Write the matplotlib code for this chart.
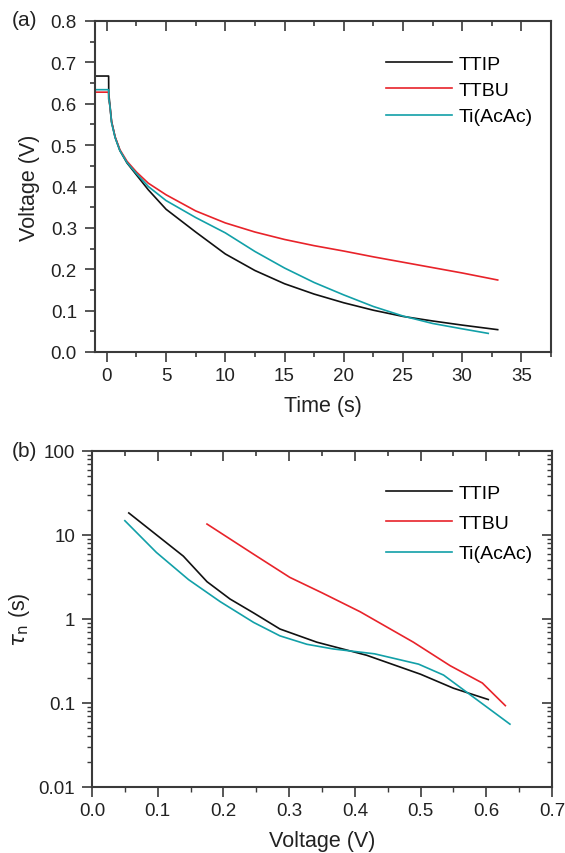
import matplotlib
matplotlib.use("Agg")
import matplotlib.pyplot as plt
from matplotlib.ticker import MultipleLocator, LogLocator, FixedLocator, FixedFormatter, NullFormatter

plt.rcParams['font.family'] = ['Liberation Sans', 'DejaVu Sans']

# ---------------- data: panel (a) voltage decay ----------------
series_names = ["TTIP", "TTBU", "Ti(AcAc)"]
series_colors = ["#111111", "#e8232a", "#12a0a8"]

t_ttip = [-1.0, 0.15, 0.16, 0.25, 0.4, 0.7, 1.1, 1.7, 2.5, 3.5, 5.0, 7.5, 10.0, 12.5, 15.0,
          17.5, 20.0, 22.5, 25.0, 27.5, 30.0, 33.0]
v_ttip = [0.667, 0.667, 0.625, 0.600, 0.557, 0.519, 0.487, 0.457, 0.428, 0.392, 0.345, 0.290,
          0.237, 0.197, 0.165, 0.140, 0.119, 0.101, 0.086, 0.075, 0.065, 0.054]

t_ttbu = [-1.0, 0.15, 0.16, 0.25, 0.4, 0.7, 1.1, 1.7, 2.5, 3.5, 5.0, 7.5, 10.0, 12.5, 15.0,
          17.5, 20.0, 22.5, 25.0, 27.5, 30.0, 33.0]
v_ttbu = [0.628, 0.628, 0.610, 0.596, 0.556, 0.520, 0.489, 0.461, 0.435, 0.408, 0.380, 0.341,
          0.312, 0.290, 0.272, 0.257, 0.244, 0.230, 0.217, 0.204, 0.191, 0.174]

t_tiacac = [-1.0, 0.15, 0.16, 0.25, 0.4, 0.7, 1.1, 1.7, 2.5, 3.5, 5.0, 7.5, 10.0, 12.5, 15.0,
            17.5, 20.0, 22.5, 25.0, 27.5, 30.0, 32.2]
v_tiacac = [0.634, 0.634, 0.612, 0.597, 0.554, 0.518, 0.487, 0.458, 0.431, 0.400, 0.366, 0.325,
            0.288, 0.243, 0.203, 0.168, 0.138, 0.110, 0.087, 0.069, 0.056, 0.045]

# ---------------- data: panel (b) electron lifetime ----------------
vb_ttip = [0.056, 0.139, 0.175, 0.210, 0.246, 0.286, 0.342, 0.418, 0.500, 0.550, 0.603]
tau_ttip = [18.3, 5.6, 2.78, 1.73, 1.18, 0.76, 0.53, 0.37, 0.22, 0.15, 0.11]

vb_ttbu = [0.175, 0.246, 0.301, 0.350, 0.408, 0.489, 0.545, 0.594, 0.629]
tau_ttbu = [13.5, 5.9, 3.13, 2.05, 1.22, 0.53, 0.278, 0.173, 0.093]

vb_tiacac = [0.050, 0.098, 0.147, 0.195, 0.246, 0.286, 0.327, 0.367, 0.430, 0.497, 0.535, 0.636]
tau_tiacac = [14.8, 6.2, 2.94, 1.61, 0.91, 0.63, 0.50, 0.44, 0.385, 0.29, 0.215, 0.056]

xa_ticks = [0, 5, 10, 15, 20, 25, 30, 35]
ya_ticks = [0.0, 0.1, 0.2, 0.3, 0.4, 0.5, 0.6, 0.7, 0.8]
xb_ticks = [0.0, 0.1, 0.2, 0.3, 0.4, 0.5, 0.6, 0.7]
yb_ticks = [0.01, 0.1, 1, 10, 100]
yb_labels = ["0.01", "0.1", "1", "10", "100"]

W, H = 565, 854
fig = plt.figure(figsize=(W / 100, H / 100), dpi=100)

spine_col = "#3a3a3a"
text_col = "#222222"
tick_fs = 13.5
leg_fs = 14
label_fs = 15.5
panel_fs = 15
lw_data = 1.2


def box(l, t, r, b):
    return [l / W, 1 - b / H, (r - l) / W, (b - t) / H]


# ---------------- panel (a) ----------------
ax1 = fig.add_axes(box(95, 22, 551, 353))
for t, v, c, n in zip([t_ttip, t_ttbu, t_tiacac], [v_ttip, v_ttbu, v_tiacac], series_colors, series_names):
    ax1.plot(t, v, color=c, lw=lw_data, label=n)
ax1.set_xlim(-1, 37.5)
ax1.set_ylim(0, 0.8)
ax1.xaxis.set_major_locator(FixedLocator(xa_ticks))
ax1.xaxis.set_minor_locator(MultipleLocator(2.5))
ax1.yaxis.set_major_locator(FixedLocator(ya_ticks))
ax1.yaxis.set_minor_locator(MultipleLocator(0.05))
ax1.yaxis.set_major_formatter(FixedFormatter([f"{v:.1f}" for v in ya_ticks]))
ax1.tick_params(which='major', direction='out', length=7, width=1.2, color=spine_col,
                labelsize=tick_fs, labelcolor=text_col)
ax1.tick_params(axis='y', which='major', pad=6)
ax1.tick_params(axis='x', which='major', pad=4)
ax1.tick_params(which='minor', direction='out', length=3.5, width=1.2, color=spine_col)
ax1.set_xlabel("Time (s)", fontsize=label_fs, labelpad=8, color=text_col)
ax1.set_ylabel("Voltage (V)", fontsize=label_fs, labelpad=8, color=text_col)
for s in ax1.spines.values():
    s.set_color(spine_col)
    s.set_linewidth(1.5)
top1 = ax1.secondary_xaxis('top')
top1.xaxis.set_major_locator(FixedLocator(xa_ticks))
top1.xaxis.set_minor_locator(MultipleLocator(2.5))
top1.tick_params(which='major', direction='in', length=7, width=1.2, color=spine_col, labeltop=False)
top1.tick_params(which='minor', direction='in', length=3.5, width=1.2, color=spine_col)
top1.spines['top'].set_visible(False)

ax1.legend(loc='upper left', bbox_to_anchor=(386 / W, 1 - 56 / H), bbox_transform=fig.transFigure,
           frameon=False, fontsize=leg_fs, handlelength=3.4, handletextpad=0.32,
           labelspacing=0.45, borderpad=0, borderaxespad=0)
fig.text(12 / W, 1 - 21 / H, "(a)", fontsize=panel_fs, va='center', ha='left', color=text_col)

# ---------------- panel (b) ----------------
ax2 = fig.add_axes(box(92, 452, 552, 788))
for x, y, c, n in zip([vb_ttip, vb_ttbu, vb_tiacac], [tau_ttip, tau_ttbu, tau_tiacac], series_colors, series_names):
    ax2.plot(x, y, color=c, lw=lw_data, label=n)
ax2.set_yscale('log')
ax2.set_xlim(0, 0.7)
ax2.set_ylim(0.01, 100)
ax2.xaxis.set_major_locator(FixedLocator(xb_ticks))
ax2.xaxis.set_major_formatter(FixedFormatter([f"{v:.1f}" for v in xb_ticks]))
ax2.xaxis.set_minor_locator(MultipleLocator(0.05))
ax2.yaxis.set_major_locator(FixedLocator(yb_ticks))
ax2.yaxis.set_major_formatter(FixedFormatter(yb_labels))
ax2.yaxis.set_minor_locator(LogLocator(base=10, subs=range(2, 10)))
ax2.yaxis.set_minor_formatter(NullFormatter())
ax2.tick_params(which='major', direction='out', length=7, width=1.2, color=spine_col,
                labelsize=tick_fs, labelcolor=text_col)
ax2.tick_params(axis='y', which='major', pad=5)
ax2.tick_params(axis='x', which='major', pad=4)
ax2.tick_params(which='minor', direction='out', length=3.5, width=1.0, color=spine_col)
ax2.set_xlabel("Voltage (V)", fontsize=label_fs, labelpad=8, color=text_col)
ax2.set_ylabel(r"$\tau_{\rm n}$ (s)", fontsize=label_fs, labelpad=5, color=text_col)
for s in ax2.spines.values():
    s.set_color(spine_col)
    s.set_linewidth(1.5)
top2 = ax2.secondary_xaxis('top')
top2.xaxis.set_major_locator(FixedLocator(xb_ticks))
top2.xaxis.set_minor_locator(MultipleLocator(0.05))
top2.tick_params(which='major', direction='in', length=7, width=1.2, color=spine_col, labeltop=False)
top2.tick_params(which='minor', direction='in', length=3.5, width=1.2, color=spine_col)
top2.spines['top'].set_visible(False)
right2 = ax2.secondary_yaxis('right')
right2.yaxis.set_major_locator(FixedLocator(yb_ticks))
right2.yaxis.set_minor_locator(LogLocator(base=10, subs=range(2, 10)))
right2.yaxis.set_minor_formatter(NullFormatter())
right2.tick_params(which='major', direction='in', length=7, width=1.2, color=spine_col, labelright=False)
right2.tick_params(which='minor', direction='in', length=3.5, width=1.0, color=spine_col)
right2.spines['right'].set_visible(False)

ax2.legend(loc='upper left', bbox_to_anchor=(386 / W, 1 - 485 / H), bbox_transform=fig.transFigure,
           frameon=False, fontsize=leg_fs, handlelength=3.4, handletextpad=0.32,
           labelspacing=0.66, borderpad=0, borderaxespad=0)
fig.text(12 / W, 1 - 452 / H, "(b)", fontsize=panel_fs, va='center', ha='left', color=text_col)

fig.savefig("out.png", dpi=100)
